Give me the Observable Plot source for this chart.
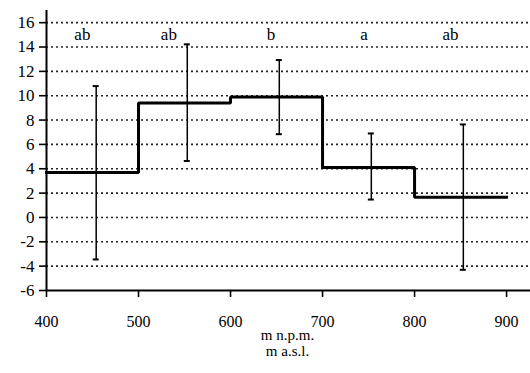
<!DOCTYPE html>
<html><head><meta charset="utf-8">
<script src="https://cdn.jsdelivr.net/npm/d3@7"></script>
<script src="https://cdn.jsdelivr.net/npm/@observablehq/plot@0.6"></script>
<style>
body{margin:0;background:#fff}
#chart svg, #chart svg text{font-family:"Liberation Serif", serif !important;}
</style>
</head><body><div id="chart"></div>
<script>
const altitudeStarts = [400, 500, 600, 700, 800];
const stepEnd = 900;
const means = [3.7, 9.4, 9.9, 4.1, 1.65];
const barX = [454, 553, 653, 753, 853];
const barLow = [-3.45, 4.64, 6.84, 1.47, -4.30];
const barHigh = [10.79, 14.22, 12.93, 6.90, 7.64];
const letters = ["ab", "ab", "b", "a", "ab"];
const letterX = [439, 533, 644, 745, 839];
const letterY = 15.05;
const xTicks = [400, 500, 600, 700, 800, 900];
const yTicks = [-6, -4, -2, 0, 2, 4, 6, 8, 10, 12, 14, 16];
const gridTicks = yTicks.filter(d => d > -6);
const xLabel1 = "m n.p.m.";
const xLabel2 = "m a.s.l.";

const stepData = altitudeStarts.map((x, i) => ({x, y: means[i]}));
stepData.push({x: stepEnd, y: means[means.length - 1]});
const bars = barX.map((x, i) => ({x, lo: barLow[i], hi: barHigh[i]}));
const caps = bars.flatMap(d => [{x: d.x, y: d.lo}, {x: d.x, y: d.hi}]);
const letterData = letters.map((t, i) => ({x: letterX[i], y: letterY, t}));

const chart = Plot.plot({
  width: 530, height: 373,
  marginLeft: 46, marginRight: 0, marginTop: 10, marginBottom: 83,
  style: "font-family: 'Liberation Serif', serif; font-size: 17px; color: #000; background: #fff;",
  x: {domain: [400, 926]},
  y: {domain: [-6, 17]},
  marks: [
    Plot.gridY(gridTicks, {stroke: "#222", strokeOpacity: 1, strokeWidth: 1.6, strokeDasharray: "2,3"}),
    Plot.ruleX([400], {y1: -6, y2: 17, stroke: "#000", strokeWidth: 2}),
    Plot.ruleY([-6], {stroke: "#000", strokeWidth: 2}),
    Plot.axisY({ticks: yTicks, tickSize: 7, tickPadding: 5, tickFormat: d => String(d), label: null, strokeWidth: 1.6, fontSize: 17}),
    Plot.axisX({ticks: xTicks, tickSize: 7, tickPadding: 18, tickFormat: d => String(d), label: null, strokeWidth: 1.6, fontSize: 16}),
    Plot.ruleX(bars, {x: "x", y1: "lo", y2: "hi", stroke: "#000", strokeWidth: 1.5}),
    Plot.ruleY(caps, {x1: "x", x2: "x", y: "y", insetLeft: -3, insetRight: -3, stroke: "#000", strokeWidth: 2}),
    Plot.line(stepData, {x: "x", y: "y", curve: "step-after", stroke: "#000", strokeWidth: 3, strokeLinecap: "square", strokeLinejoin: "miter"}),
    Plot.text(letterData, {x: "x", y: "y", text: "t", fontSize: 17, fill: "#000"}),
    Plot.text([xLabel1], {frameAnchor: "bottom", dy: 49, dx: -1, fontSize: 15, fill: "#000"}),
    Plot.text([xLabel2], {frameAnchor: "bottom", dy: 65, dx: -1, fontSize: 15, fill: "#000"})
  ]
});
document.getElementById("chart").append(chart);
</script>
</body></html>
